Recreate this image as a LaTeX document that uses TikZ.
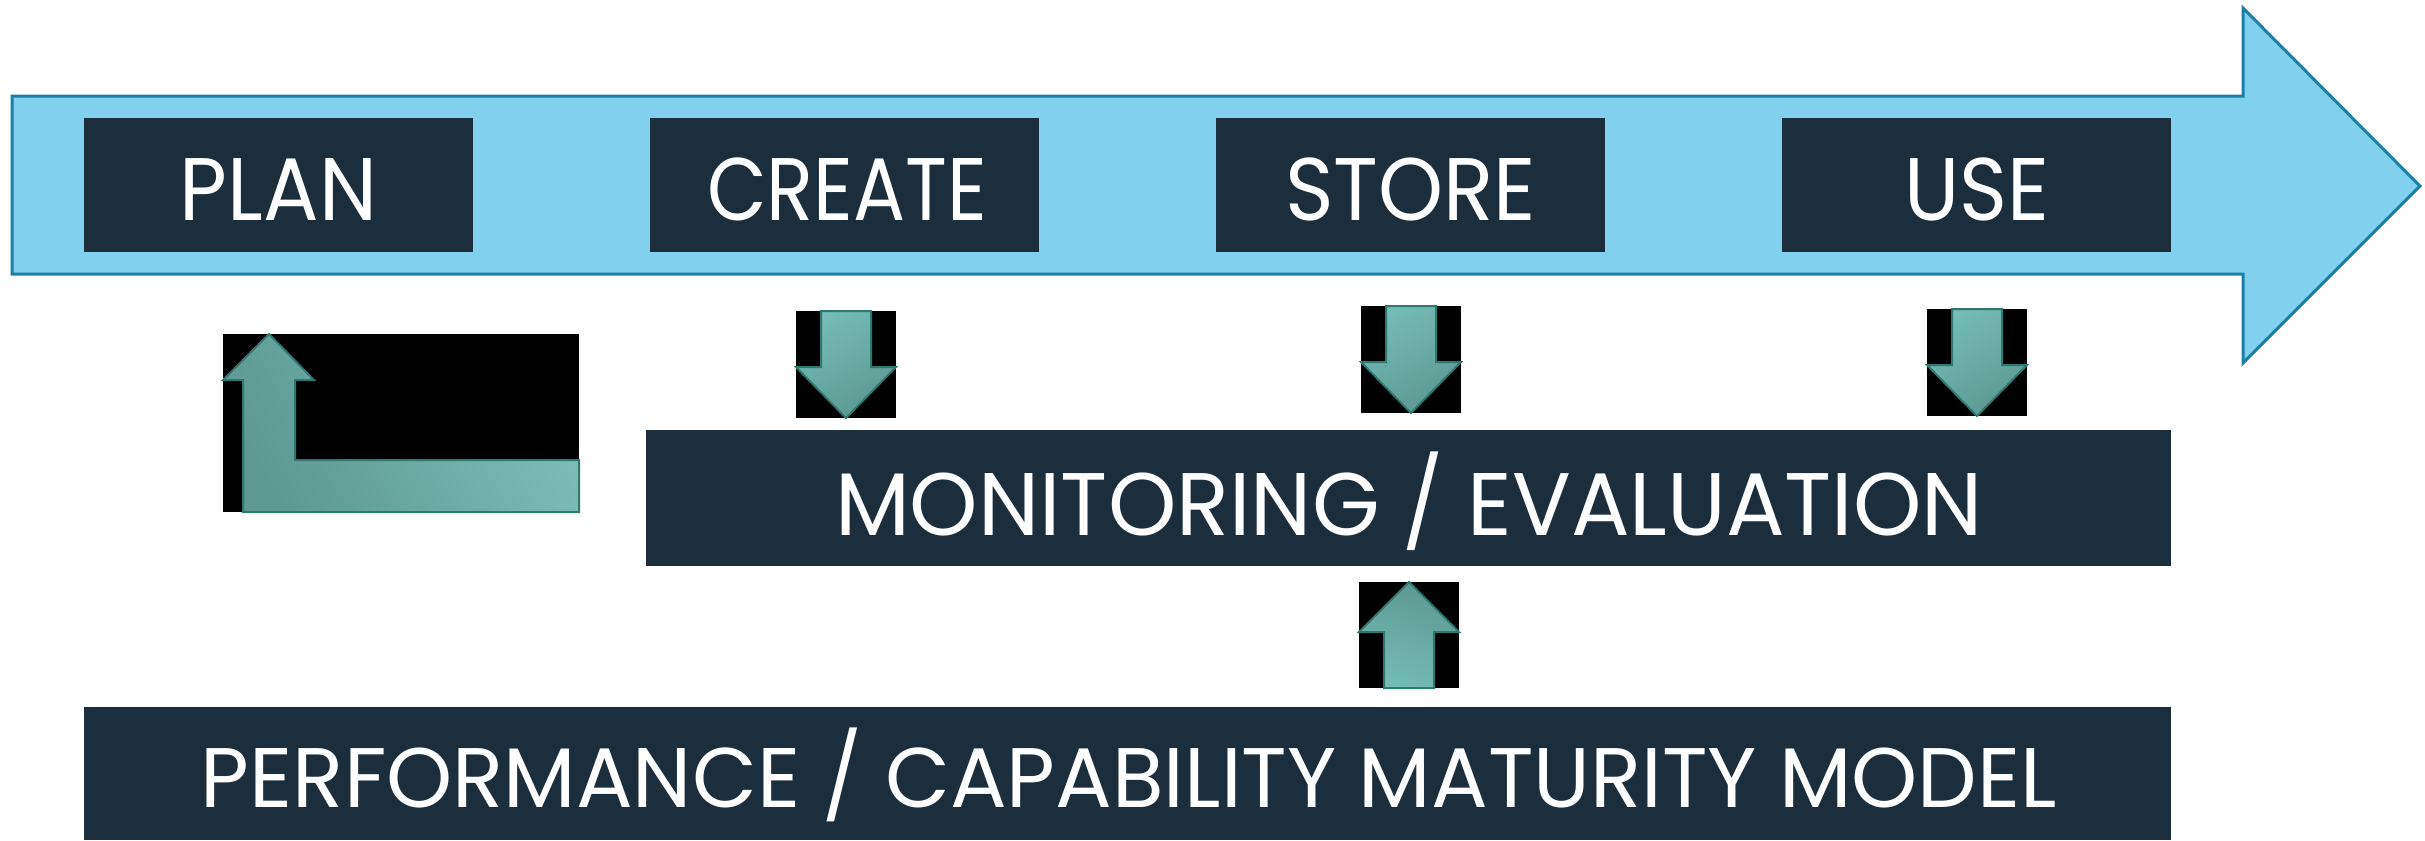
\documentclass[tikz,border=0pt]{standalone}
\usepackage{fontspec}
\setmainfont{Poppins}
\usepackage{graphicx}
\definecolor{skyfill}{HTML}{80D0EE}
\definecolor{skyline}{HTML}{1A80A8}
\definecolor{navy}{HTML}{1C2E3C}
\definecolor{tealA}{HTML}{74BCB5}
\definecolor{tealB}{HTML}{5E9892}
\definecolor{tealline}{HTML}{2E786F}
\newcommand\fitbox[3]{%
  \setbox0\hbox{#3}\setbox2\hbox{E}%
  \pgfmathsetmacro\fbx{(#1*0.25)/\the\wd0}%
  \pgfmathsetmacro\fby{(#2*0.25)/\the\ht2}%
  \scalebox{\fbx}[\fby]{\box0}}
\tikzset{
  navybox/.style={fill=navy, draw=none},
  lbl/.style={text=white, inner sep=0pt, anchor=base},
  bigarrow/.style={fill=skyfill, draw=skyline, line width=0.75pt, line join=miter},
  tealarrow/.style={draw=tealline, line width=0.5pt, line join=miter, top color=tealA, bottom color=tealB, shading angle=30},
  blackbg/.style={fill=black, draw=none}
}
\begin{document}
\begin{tikzpicture}[x=0.25pt, y=-0.25pt]
\useasboundingbox (0,0) rectangle (2425,840);
% big process arrow
\draw[bigarrow] (12,96) -- (2243,96) -- (2243,8) -- (2420,186) -- (2243,363) -- (2243,274) -- (12,274) -- cycle;
% top boxes
\path[navybox] (84,118) rectangle (473,252);
\path[navybox] (650,118) rectangle (1039,252);
\path[navybox] (1216,118) rectangle (1605,252);
\path[navybox] (1782,118) rectangle (2171,252);
\node[lbl] (plan) at (278.5,220) {\fitbox{197}{62}{PLAN}};
\node[lbl] (create) at (847,220) {\fitbox{280}{62}{CREATE}};
\node[lbl] (store) at (1410.5,220) {\fitbox{251}{62}{STORE}};
\node[lbl] (use) at (1976.5,220) {\fitbox{145}{62}{USE}};
% monitoring box
\path[navybox] (646,430) rectangle (2171,566);
\node[lbl] (mon) at (1409,535) {\fitbox{1148}{62}{MONITORING / EVALUATION}};
% performance box
\path[navybox] (84,707) rectangle (2171,840);
\node[lbl] (perf) at (1129,807) {\fitbox{1856}{59}{PERFORMANCE / CAPABILITY MATURITY MODEL}};
% L-shaped arrow
\path[blackbg] (223,334) rectangle (579,512);
\draw[tealarrow, top color=tealA!95!white, bottom color=tealB, shading angle=-60] (243,512) -- (243,380) -- (223,380) -- (269,334) -- (314,380) -- (295,380) -- (295,460) -- (579,460) -- (579,512) -- cycle;
% down arrows
\foreach \x/\y/\n in {796/311/dcreate, 1361/306/dstore, 1927/309/duse}{
  \path[blackbg] (\x,\y) rectangle ++(100,107);
  \draw[tealarrow] (\x+25,\y) -- (\x+75,\y) -- (\x+75,\y+56) -- (\x+100,\y+56) -- (\x+50,\y+107) -- (\x,\y+56) -- (\x+25,\y+56) -- cycle;
}
% up arrow
\path[blackbg] (1359,582) rectangle (1459,688);
\draw[tealarrow, shading angle=160] (1384,688) -- (1434,688) -- (1434,632) -- (1459,632) -- (1409,582) -- (1359,632) -- (1384,632) -- cycle;
\end{tikzpicture}
\end{document}
